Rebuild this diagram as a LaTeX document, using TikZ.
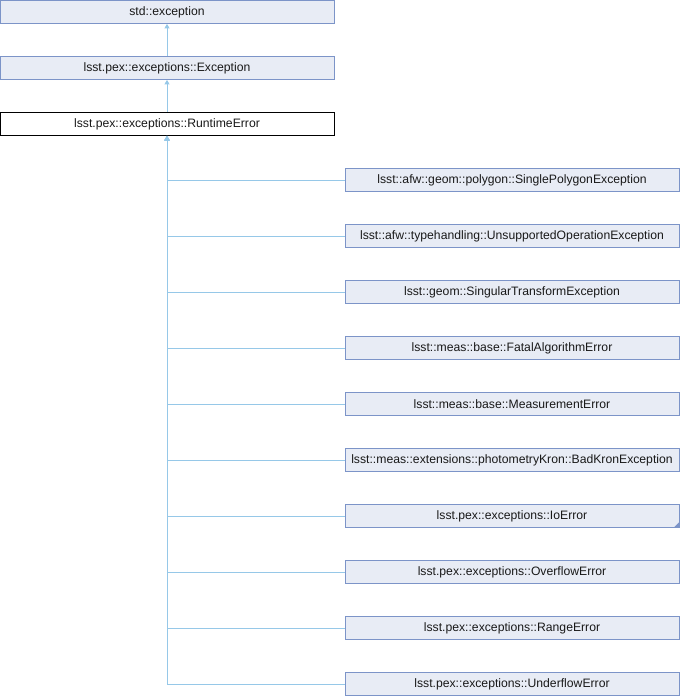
\documentclass[tikz,border=0pt]{standalone}
\usepackage{fontspec}
\setmainfont{Liberation Sans}
\usetikzlibrary{arrows.meta}

\definecolor{boxfill}{RGB}{232,236,245}
\definecolor{boxline}{RGB}{124,148,200}
\definecolor{edgeblue}{RGB}{150,200,232}

\tikzset{
  classbox/.style={draw=boxline, fill=boxfill, line width=0.8pt, minimum width=334pt,
    minimum height=23pt, inner sep=0pt, font=\fontsize{12.2}{14}\selectfont, text=black!90},
  currentbox/.style={classbox, draw=black, fill=white},
  inherit/.style={edgeblue, line width=0.9pt, {Triangle[width=5pt,length=4.5pt]}-}
}

\begin{document}
\begin{tikzpicture}[x=1pt,y=1pt]

% Fix the page to the reference size
\useasboundingbox (0,0) rectangle (680,-696);

% Base classes on the left
\node[classbox]   (stdexc) at (167,-12)  {std::exception};
\node[classbox]   (pexexc) at (167,-68)  {lsst.pex::exceptions::Exception};
\node[currentbox] (rterr)  at (167,-124) {lsst.pex::exceptions::RuntimeError};

% Derived classes on the right
\node[classbox] (polyexc)  at (512,-180) {lsst::afw::geom::polygon::SinglePolygonException};
\node[classbox] (unsupexc) at (512,-236) {lsst::afw::typehandling::UnsupportedOperationException};
\node[classbox] (singexc)  at (512,-292) {lsst::geom::SingularTransformException};
\node[classbox] (fatalerr) at (512,-348) {lsst::meas::base::FatalAlgorithmError};
\node[classbox] (measerr)  at (512,-404) {lsst::meas::base::MeasurementError};
\node[classbox] (kronexc)  at (512,-460) {lsst::meas::extensions::photometryKron::BadKronException};
\node[classbox] (ioerr)    at (512,-516) {lsst.pex::exceptions::IoError};
\node[classbox] (overerr)  at (512,-572) {lsst.pex::exceptions::OverflowError};
\node[classbox] (rangeerr) at (512,-628) {lsst.pex::exceptions::RangeError};
\node[classbox] (undererr) at (512,-684) {lsst.pex::exceptions::UnderflowError};

% Small marker in the corner of IoError
\fill[boxline] (ioerr.south east) -- ++(0,6) -- ++(-6,-6) -- cycle;

% Inheritance up the left column
\draw[inherit] (stdexc) -- (pexexc);
\draw[inherit] (pexexc) -- (rterr);

% Inheritance from RuntimeError to the right column
\draw[inherit] (rterr.south) |- (polyexc.west);
\draw[inherit] (rterr.south) |- (unsupexc.west);
\draw[inherit] (rterr.south) |- (singexc.west);
\draw[inherit] (rterr.south) |- (fatalerr.west);
\draw[inherit] (rterr.south) |- (measerr.west);
\draw[inherit] (rterr.south) |- (kronexc.west);
\draw[inherit] (rterr.south) |- (ioerr.west);
\draw[inherit] (rterr.south) |- (overerr.west);
\draw[inherit] (rterr.south) |- (rangeerr.west);
\draw[inherit] (rterr.south) |- (undererr.west);

\end{tikzpicture}
\end{document}
